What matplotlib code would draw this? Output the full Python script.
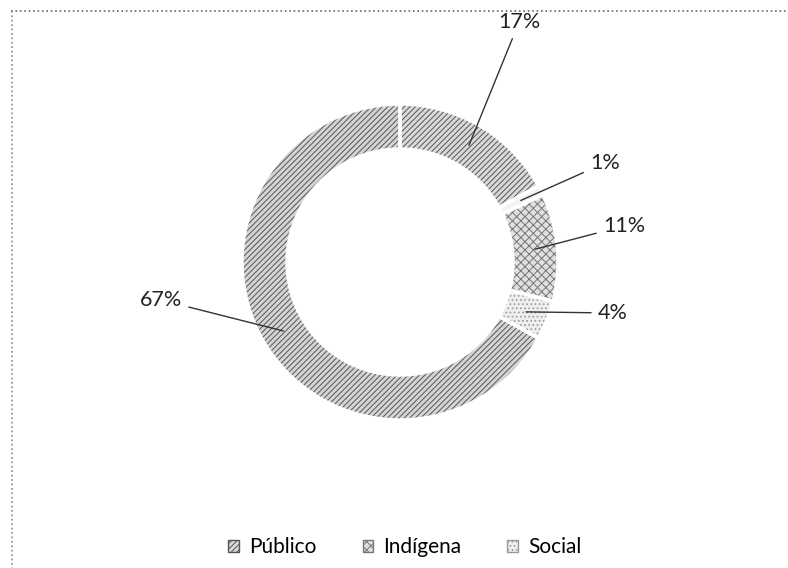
import numpy as np
import matplotlib.pyplot as plt
from matplotlib.patches import Patch

# slice values (percent), clockwise from the top
values = [17, 1, 11, 4, 67]
labels = ["17%", "1%", "11%", "4%", "67%"]
legend_names = ["Público", "Indígena", "Social"]

faces = ["#d9d9d9", "#f2f2f2", "#e0e0e0", "#eeeeee", "#d4d4d4"]
hatches = ["//////", "", "xxxx", "....", "//////"]
hatch_cols = ["#555555", "#bbbbbb", "#777777", "#999999", "#555555"]

plt.rcParams['font.family'] = ['Lato', 'DejaVu Sans']
plt.rcParams['hatch.linewidth'] = 0.7

fig = plt.figure(figsize=(7.88, 5.68), dpi=100)
ax = fig.add_axes([0, 0, 1, 1])

cx, cy = 400, 568 - 262
r_out, width = 158, 45

wedges, _ = ax.pie(values, startangle=90, counterclock=False, center=(cx, cy),
                   radius=r_out, wedgeprops=dict(width=width, linewidth=0))
for w, f, h, hc in zip(wedges, faces, hatches, hatch_cols):
    w.set_facecolor(f)
    w.set_hatch(h)
    w.set_edgecolor(hc)

# white gaps between slices
ax.pie(values, startangle=90, counterclock=False, center=(cx, cy), radius=r_out,
       wedgeprops=dict(width=width, fill=False, edgecolor="white", linewidth=2.5))

# labels with leader lines
text_pos = [(498, 22), (590, 163), (603, 226), (598, 313), (182, 300)]
bounds = np.cumsum([0] + values)
r_mid = r_out - width / 2
for i, (lab, (tx, ty)) in enumerate(zip(labels, text_pos)):
    mid = 90 - 3.6 * (bounds[i] + bounds[i + 1]) / 2
    px = cx + r_mid * np.cos(np.radians(mid))
    py = cy + r_mid * np.sin(np.radians(mid))
    ha = "right" if tx < cx else "left"
    ax.annotate(lab, xy=(px, py), xytext=(tx, 568 - ty), ha=ha, va="center",
                fontsize=15.5, color="#222222",
                arrowprops=dict(arrowstyle="-", color="#333333", lw=1,
                                shrinkA=3, shrinkB=0))

handles = [Patch(facecolor=faces[i], edgecolor=hatch_cols[i], hatch=hatches[i])
           for i in [0, 2, 3]]
ax.legend(handles, legend_names, ncol=3, loc="center", bbox_to_anchor=(405, 568 - 547),
          bbox_transform=ax.transData, frameon=False, fontsize=15,
          handlelength=0.5, handleheight=0.5, handletextpad=0.5, columnspacing=2.2)

# dotted frame (top and left edges visible)
ax.plot([11, 788], [568 - 11, 568 - 11], ls=":", color="#666666", lw=1.2)
ax.plot([12, 12], [568 - 11, 0], ls=":", color="#888888", lw=1.2)

ax.set_xlim(0, 788)
ax.set_ylim(0, 568)
ax.set_aspect("equal")
ax.axis("off")

fig.savefig("out.png", dpi=100)
